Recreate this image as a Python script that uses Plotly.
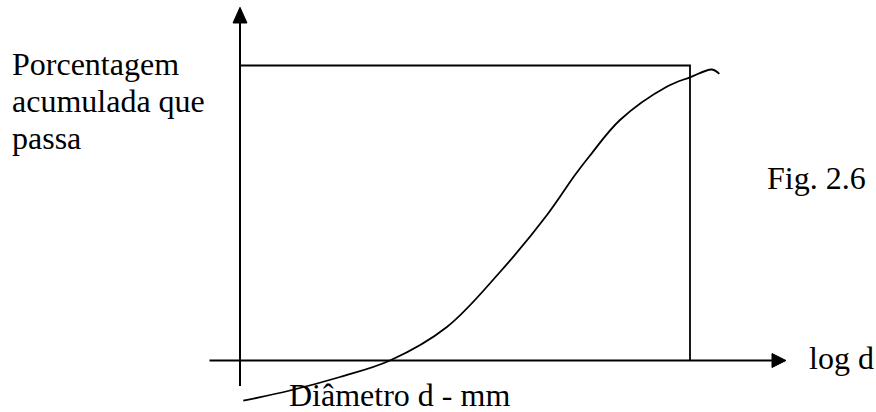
import plotly.graph_objects as go

# Schematic grain-size curve: log d (0 = origin, 100 = right edge of frame) vs % passing
log_d = [0.73, 11.11, 22.22, 33.33, 45.98, 57.78, 68.22, 74.44, 77.78, 84.44, 94.82, 100.0, 104.89, 106.51]
pct_passing = [-13.63, -10.17, -5.59, 0.0, 11.36, 30.0, 49.32, 62.88, 69.49, 81.53, 92.81, 96.0, 98.64, 97.12]

# Frame (100 % line and maximum diameter)
frame_x = [0, 100, 100]
frame_y = [100, 100, 0]

# Axes extents (data units)
x_axis_start, x_axis_end, x_arrow_tip = -6.78, 118.22, 121.33
y_axis_start, y_axis_end, y_arrow_tip = -8.64, 114.41, 119.73
x_arrow_half, y_arrow_half = 2.373, 1.556

W, H = 876, 412
FONT = dict(family="Liberation Serif", size=32, color="black")

fig = go.Figure()

# axes lines
fig.add_trace(go.Scatter(x=[x_axis_start, x_axis_end], y=[0, 0], mode="lines",
                         line=dict(color="black", width=2), hoverinfo="skip"))
fig.add_trace(go.Scatter(x=[0, 0], y=[y_axis_start, y_axis_end], mode="lines",
                         line=dict(color="black", width=2), hoverinfo="skip"))
# arrowheads
fig.add_trace(go.Scatter(x=[x_axis_end, x_arrow_tip, x_axis_end, x_axis_end],
                         y=[x_arrow_half, 0, -x_arrow_half, x_arrow_half],
                         mode="lines", fill="toself", fillcolor="black",
                         line=dict(color="black", width=1), hoverinfo="skip"))
fig.add_trace(go.Scatter(x=[-y_arrow_half, 0, y_arrow_half, -y_arrow_half],
                         y=[y_axis_end, y_arrow_tip, y_axis_end, y_axis_end],
                         mode="lines", fill="toself", fillcolor="black",
                         line=dict(color="black", width=1), hoverinfo="skip"))
# frame
fig.add_trace(go.Scatter(x=frame_x, y=frame_y, mode="lines",
                         line=dict(color="black", width=1.8), hoverinfo="skip"))
# curve
fig.add_trace(go.Scatter(x=log_d, y=pct_passing, mode="lines",
                         line=dict(color="black", width=1.8, shape="spline", smoothing=1.0),
                         hoverinfo="skip"))

labels = [
    ("Porcentagem", 11.7, 64.2),
    ("acumulada que", 11.7, 100.9),
    ("passa", 11.7, 137.5),
    ("Fig. 2.6", 767, 178.4),
    ("log d", 809, 358.2),
    ("Diâmetro d - mm", 289, 394.5),
]
for text, px, py in labels:
    fig.add_annotation(text=text, xref="paper", yref="paper",
                       x=(px - 2) / W, y=1 - py / H, xanchor="left", yanchor="middle",
                       showarrow=False, font=FONT)

fig.update_layout(
    width=W, height=H, margin=dict(l=0, r=0, t=0, b=0),
    paper_bgcolor="white", plot_bgcolor="white", showlegend=False,
    xaxis=dict(range=[-53.333, 141.333], visible=False, fixedrange=True),
    yaxis=dict(range=[-17.458, 122.203], visible=False, fixedrange=True),
)

fig.write_html("out.html")
